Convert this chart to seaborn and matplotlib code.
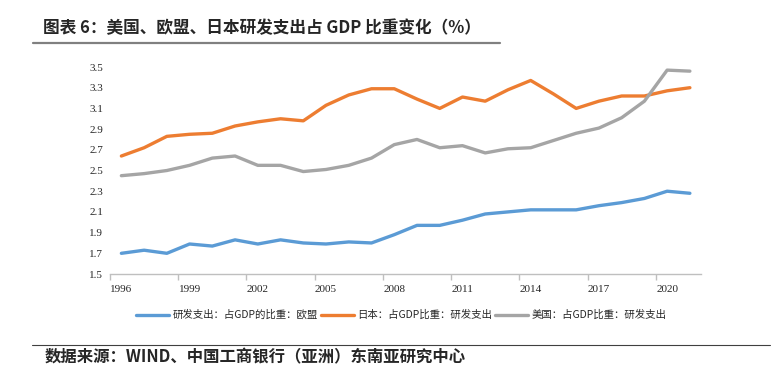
import pandas as pd
import matplotlib.pyplot as plt
import seaborn as sns
from matplotlib.lines import Line2D
from matplotlib.ticker import FixedLocator, NullFormatter

# Data (R&D spending as % of GDP)
years = list(range(1996, 2022))
eu = [1.70, 1.73, 1.70, 1.79, 1.77, 1.83, 1.79, 1.83, 1.80, 1.79, 1.81, 1.80,
      1.88, 1.97, 1.97, 2.02, 2.08, 2.10, 2.12, 2.12, 2.12, 2.16, 2.19, 2.23,
      2.30, 2.28]
japan = [2.64, 2.72, 2.83, 2.85, 2.86, 2.93, 2.97, 3.00, 2.98, 3.13, 3.23, 3.29,
         3.29, 3.19, 3.10, 3.21, 3.17, 3.28, 3.37, 3.24, 3.10, 3.17, 3.22, 3.22,
         3.27, 3.30]
usa = [2.45, 2.47, 2.50, 2.55, 2.62, 2.64, 2.55, 2.55, 2.49, 2.51, 2.55, 2.62,
       2.75, 2.80, 2.72, 2.74, 2.67, 2.71, 2.72, 2.79, 2.86, 2.91, 3.01, 3.17,
       3.47, 3.46]
series_names = ['研发支出：占GDP的比重：欧盟', '日本：占GDP比重：研发支出', '美国：占GDP比重：研发支出']
colors = ['#5B9BD5', '#ED7D31', '#A5A5A5']
yticks = [1.5, 1.7, 1.9, 2.1, 2.3, 2.5, 2.7, 2.9, 3.1, 3.3, 3.5]
xlabel_years = [1996, 1999, 2002, 2005, 2008, 2011, 2014, 2017, 2020]

title = '图表 6：美国、欧盟、日本研发支出占 GDP 比重变化（%）'
source = '数据来源：WIND、中国工商银行（亚洲）东南亚研究中心'

df = pd.DataFrame({
    'year': years * 3,
    'value': eu + japan + usa,
    'series': [series_names[0]] * len(years) + [series_names[1]] * len(years) + [series_names[2]] * len(years),
})

sns.set_style('white')
plt.rcParams['font.family'] = ['Noto Sans CJK SC', 'DejaVu Sans']

fig = plt.figure(figsize=(7.79, 3.68), dpi=100)
ax = fig.add_axes([0.1412, 0.2554, 0.759, 0.5625])

sns.lineplot(data=df, x='year', y='value', hue='series', hue_order=series_names,
             palette=colors, linewidth=2.4, ax=ax, legend=False)

ax.set_xlim(1995.5, 2021.5)
ax.set_ylim(1.5, 3.5)
for line in ax.lines:
    line.set_clip_on(False)

# y axis: labels only, no spine
ax.set_yticks(yticks)
ax.set_yticklabels([f'{v:.1f}' for v in yticks], family='Liberation Serif', fontsize=8)
ax.tick_params(axis='y', length=0, pad=5)

# x axis: labels at categories, tick marks at category boundaries
ax.set_xticks(xlabel_years)
ax.set_xticklabels([str(y) for y in xlabel_years], family='Liberation Serif', fontsize=8)
ax.tick_params(axis='x', which='major', length=0, pad=8)
ax.xaxis.set_minor_locator(FixedLocator([y - 0.5 for y in xlabel_years]))
ax.xaxis.set_minor_formatter(NullFormatter())
ax.tick_params(axis='x', which='minor', length=4, color='#BFBFBF', width=1, direction='out')
ax.tick_params(axis='x', which='minor', bottom=True)

for side in ['left', 'right', 'top']:
    ax.spines[side].set_visible(False)
ax.spines['bottom'].set_color('#BFBFBF')
ax.spines['bottom'].set_linewidth(1)
ax.set_xlabel('')
ax.set_ylabel('')

handles = [Line2D([0], [0], color=c, lw=2.4) for c in colors]
fig.legend(handles, series_names, loc='center', bbox_to_anchor=(0.515, 1 - 315 / 368),
           ncol=3, frameon=False, fontsize=7.5, handlelength=3.2, columnspacing=0.3,
           handletextpad=0.3)

# title and source with rules
fig.text(43 / 779, 1 - 28 / 368, title, fontsize=12, fontweight='bold', va='center', ha='left')
fig.add_artist(Line2D([33 / 779, 500 / 779], [1 - 43 / 368] * 2, color='#808080', lw=1.6))
fig.add_artist(Line2D([32 / 779, 770 / 779], [1 - 345 / 368] * 2, color='#404040', lw=0.8))
fig.text(45 / 779, 1 - 357 / 368, source, fontsize=11.8, fontweight='bold', style='italic',
         va='center', ha='left')

fig.savefig('out.png', dpi=100)
